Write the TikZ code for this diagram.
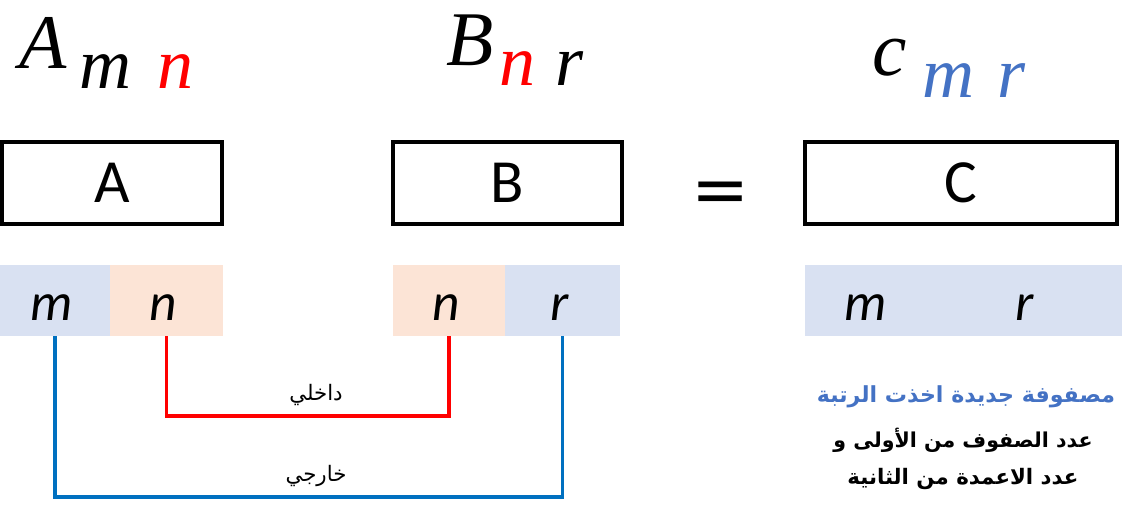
\documentclass[tikz,border=0pt]{standalone}
\usepackage{fontspec}
\setmainfont{Carlito}
\newfontfamily\hdfont{Liberation Serif}
\newfontfamily\eqfont{DejaVu Sans}
\newfontfamily\arabicfont[Script=Arabic]{DejaVu Sans}
\TeXXeTstate=1
\definecolor{cred}{HTML}{FF0000}
\definecolor{cblue}{HTML}{4472C4}
\definecolor{lblue}{HTML}{0070C0}
\definecolor{cellblue}{HTML}{D9E1F2}
\definecolor{cellpeach}{HTML}{FCE4D6}
\tikzset{
  head/.style={anchor=base, inner sep=0pt, font=\hdfont\itshape\fontsize{58}{60}\selectfont},
  sub/.style={anchor=base, inner sep=0pt, font=\hdfont\itshape\fontsize{54}{56}\selectfont},
  mbox/.style={draw=black, line width=2.8pt, minimum height=61.5pt, inner sep=0pt, font=\fontsize{46}{50}\selectfont},
  cellb/.style={fill=cellblue, draw=none, minimum height=53.25pt, inner sep=0pt},
  cellp/.style={fill=cellpeach, draw=none, minimum height=53.25pt, inner sep=0pt},
  clet/.style={anchor=base, inner sep=0pt, font=\itshape\fontsize{40}{44}\selectfont},
  redline/.style={draw=cred, line width=2.4pt},
  blueline/.style={draw=lblue, line width=2.4pt},
  arlbl/.style={inner sep=0pt, font=\arabicfont\fontsize{16}{18}\selectfont},
  artxt/.style={inner sep=0pt, font=\arabicfont\bfseries\fontsize{16}{19}\selectfont},
}
\begin{document}
\begin{tikzpicture}[x=0.75pt,y=-0.75pt]
\path[use as bounding box] (0,0) rectangle (1122,504);
% headings
\node[head] (hA) at (43,68) {A};
\node[sub] (hAm) at (105,88) {m};
\node[sub, text=cred] (hAn) at (175,88) {n};
\node[head] (hB) at (470,65) {B};
\node[sub, text=cred] (hBn) at (517,85) {n};
\node[sub] (hBr) at (570,85) {r};
\node[head] (hC) at (890,75) {c};
\node[sub, text=cblue] (hCm) at (948,97) {m};
\node[sub, text=cblue] (hCr) at (1012,97) {r};
% boxes
\node[mbox, minimum width=165.4pt] (boxA) at (112,183) {\raisebox{-1.5pt}{A}};
\node[mbox, minimum width=171.75pt] (boxB) at (507.5,183) {\raisebox{-1.5pt}{B}};
\node[inner sep=0pt, font=\eqfont\fontsize{52}{56}\selectfont] (eq) at (721,198) {=};
\node[mbox, minimum width=234pt] (boxC) at (961,183) {\raisebox{-1.5pt}{C}};
% cells
\node[cellb, minimum width=82.5pt] (m1) at (55,300.5) {};
\node[cellp, minimum width=84.75pt] (n1) at (166.5,300.5) {};
\node[cellp, minimum width=84pt] (n2) at (449,300.5) {};
\node[cellb, minimum width=86.25pt] (r2) at (562.5,300.5) {};
\node[cellb, minimum width=237.75pt] (crow) at (963.5,300.5) {};
\node[clet] (lm1) at (52,320) {m};
\node[clet] (ln1) at (163,320) {n};
\node[clet] (ln2) at (446,320) {n};
\node[clet] (lr2) at (560,320) {r};
\node[clet] (lcm) at (866,320) {m};
\node[clet] (lcr) at (1025,320) {r};
% connectors
\coordinate (inner) at (308,416);
\coordinate (outer) at (309,497);
\draw[redline] (n1.south) |- (inner) -| (n2.south);
\draw[blueline] (m1.south) |- (outer) -| (r2.south);
\node[arlbl] (ldakhli) at (316,395) {\beginR داخلي\endR};
\node[arlbl] (lkhariji) at (316,476) {\beginR خارجي\endR};
% right text
\node[artxt, text=cblue, font=\arabicfont\bfseries\fontsize{16.6}{19}\selectfont] (t1) at (966,397) {\beginR مصفوفة جديدة اخذت الرتبة\endR};
\node[artxt, font=\arabicfont\bfseries\fontsize{15.4}{19}\selectfont] (t2) at (963,440) {\beginR عدد الصفوف من الأولى و\endR};
\node[artxt] (t3) at (963,479) {\beginR عدد الاعمدة من الثانية\endR};
\end{tikzpicture}
\end{document}
